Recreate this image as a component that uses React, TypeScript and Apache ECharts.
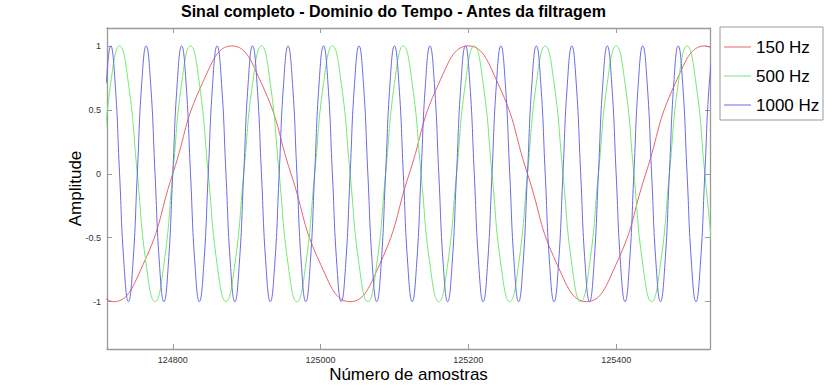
import React, { useEffect, useRef } from "react";
import * as echarts from "echarts";

// Sample grids (sample index of first value and spacing between values)
const start150 = 124680;
const step150 = 40;
const start500 = 124704;
const step500 = 12;
const start1000 = 124710;
const step1000 = 6;

// Values (peaks, troughs, zero crossings and midpoints)
const values150 = [
  -0.707, -1, -0.707, 0, 0.707, 1, 0.707, 0,
  -0.707, -1, -0.707, 0, 0.707, 1, 0.707, 0,
  -0.707, -1, -0.707, 0, 0.707, 1, 0.707,
];

const values500 = [
  0, 0.707, 1, 0.707, 0, -0.707, -1, -0.707,
  0, 0.707, 1, 0.707, 0, -0.707, -1, -0.707,
  0, 0.707, 1, 0.707, 0, -0.707, -1, -0.707,
  0, 0.707, 1, 0.707, 0, -0.707, -1, -0.707,
  0, 0.707, 1, 0.707, 0, -0.707, -1, -0.707,
  0, 0.707, 1, 0.707, 0, -0.707, -1, -0.707,
  0, 0.707, 1, 0.707, 0, -0.707, -1, -0.707,
  0, 0.707, 1, 0.707, 0, -0.707, -1, -0.707,
  0, 0.707, 1, 0.707, 0, -0.707,
];

const values1000 = [
  0.707, 1, 0.707, 0, -0.707, -1, -0.707, 0,
  0.707, 1, 0.707, 0, -0.707, -1, -0.707, 0,
  0.707, 1, 0.707, 0, -0.707, -1, -0.707, 0,
  0.707, 1, 0.707, 0, -0.707, -1, -0.707, 0,
  0.707, 1, 0.707, 0, -0.707, -1, -0.707, 0,
  0.707, 1, 0.707, 0, -0.707, -1, -0.707, 0,
  0.707, 1, 0.707, 0, -0.707, -1, -0.707, 0,
  0.707, 1, 0.707, 0, -0.707, -1, -0.707, 0,
  0.707, 1, 0.707, 0, -0.707, -1, -0.707, 0,
  0.707, 1, 0.707, 0, -0.707, -1, -0.707, 0,
  0.707, 1, 0.707, 0, -0.707, -1, -0.707, 0,
  0.707, 1, 0.707, 0, -0.707, -1, -0.707, 0,
  0.707, 1, 0.707, 0, -0.707, -1, -0.707, 0,
  0.707, 1, 0.707, 0, -0.707, -1, -0.707, 0,
  0.707, 1, 0.707, 0, -0.707, -1, -0.707, 0,
  0.707, 1, 0.707, 0, -0.707, -1, -0.707, 0,
  0.707, 1, 0.707, 0, -0.707, -1, -0.707, 0,
  0.707, 1,
];

const seriesNames = ["150 Hz", "500 Hz", "1000 Hz"];
const xTicks = [124800, 125000, 125200, 125400];
const yTicks = [-1, -0.5, 0, 0.5, 1];
const xMin = 124711;
const xMax = 125527;
const yMin = -1.37;
const yMax = 1.14;

const FONT = "'Liberation Sans', Arial, sans-serif";

const toPairs = (vals: number[], start: number, step: number) =>
  vals.map((v, i) => [start + i * step, v]);

export default function App() {
  const ref = useRef<HTMLDivElement>(null);
  useEffect(() => {
    if (!ref.current) return;
    const chart = echarts.init(ref.current, undefined, { renderer: "svg" });
    const axisLine = { show: true, onZero: false, lineStyle: { color: "#9a9a9a", width: 1.3 } };
    const tickStyle = { color: "#9a9a9a", width: 1 };
    chart.setOption({
      animation: false,
      backgroundColor: "#fff",
      title: {
        text: "Sinal completo - Dominio do Tempo - Antes da filtragem",
        left: 181,
        top: 3,
        padding: 0,
        textStyle: { fontFamily: FONT, fontSize: 16, fontWeight: "bold", color: "#000" },
      },
      grid: { left: 107, right: 123, top: 28, bottom: 43 },
      legend: {
        orient: "vertical",
        left: 724,
        top: 37,
        padding: 0,
        icon: "rect",
        itemWidth: 27,
        itemHeight: 1,
        itemGap: 9,
        data: seriesNames,
        textStyle: { fontFamily: FONT, fontSize: 17, color: "#000", lineHeight: 20 },
      },
      graphic: [
        {
          type: "rect",
          shape: { x: 720, y: 27, width: 103, height: 93 },
          style: { fill: "none", stroke: "#9a9a9a", lineWidth: 1 },
          silent: true,
        },
      ],
      xAxis: [
        {
          type: "value",
          min: xMin,
          max: xMax,
          position: "bottom",
          name: "Número de amostras",
          nameLocation: "middle",
          nameGap: 17,
          nameMoveOverlap: false,
          nameTextStyle: { fontFamily: FONT, fontSize: 17, color: "#000" },
          axisLine,
          axisTick: { show: true, inside: true, length: 5, lineStyle: tickStyle, customValues: xTicks },
          axisLabel: {
            customValues: xTicks,
            fontFamily: FONT,
            fontSize: 9,
            color: "#333",
            margin: 6,
            formatter: (v: number) => String(v),
          },
          splitLine: { show: false },
        },
        {
          type: "value",
          min: xMin,
          max: xMax,
          position: "top",
          axisLine,
          axisTick: { show: true, inside: true, length: 5, lineStyle: tickStyle, customValues: xTicks },
          axisLabel: { show: false },
          splitLine: { show: false },
        },
      ],
      yAxis: [
        {
          type: "value",
          min: yMin,
          max: yMax,
          position: "left",
          name: "Amplitude",
          nameLocation: "middle",
          nameGap: 23,
          nameMoveOverlap: false,
          nameTextStyle: { fontFamily: FONT, fontSize: 17, color: "#000" },
          axisLine,
          axisTick: { show: true, inside: true, length: 5, lineStyle: tickStyle, customValues: yTicks },
          axisLabel: {
            customValues: yTicks,
            fontFamily: FONT,
            fontSize: 9,
            color: "#333",
            margin: 6,
          },
          splitLine: { show: false },
        },
        {
          type: "value",
          min: yMin,
          max: yMax,
          position: "right",
          axisLine,
          axisTick: { show: true, inside: true, length: 5, lineStyle: tickStyle, customValues: yTicks },
          axisLabel: { show: false },
          splitLine: { show: false },
        },
      ],
      series: [
        {
          name: seriesNames[0],
          type: "line",
          data: toPairs(values150, start150, step150),
          smooth: true,
          symbol: "none",
          clip: true,
          lineStyle: { color: "#e8646c", width: 1 },
          itemStyle: { color: "#e8646c" },
        },
        {
          name: seriesNames[1],
          type: "line",
          data: toPairs(values500, start500, step500),
          smooth: true,
          symbol: "none",
          clip: true,
          lineStyle: { color: "#74e874", width: 1 },
          itemStyle: { color: "#74e874" },
        },
        {
          name: seriesNames[2],
          type: "line",
          data: toPairs(values1000, start1000, step1000),
          smooth: true,
          symbol: "none",
          clip: true,
          lineStyle: { color: "#6a6ae6", width: 1 },
          itemStyle: { color: "#6a6ae6" },
        },
      ],
    });
    return () => chart.dispose();
  }, []);
  return <div ref={ref} style={{ width: 833, height: 392, position: "absolute", left: 0, top: 0 }} />;
}
